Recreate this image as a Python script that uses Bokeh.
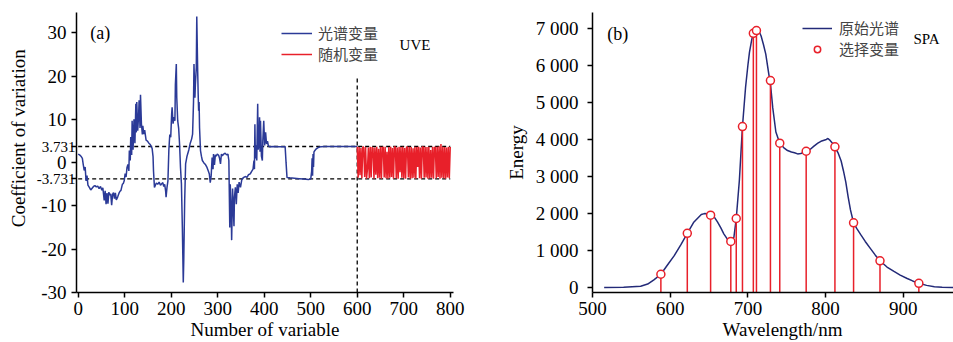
from bokeh.plotting import figure
from bokeh.layouts import row
from bokeh.models import FixedTicker, Label, Legend, LegendItem, LinearAxis
from bokeh.embed import file_html
from bokeh.resources import INLINE

# ---------------- data: panel (a) UVE ----------------
uve_var = [0, 3, 6, 9, 11, 13, 15, 17, 19, 21, 24, 27, 30, 33, 36, 39, 42, 45, 48, 51, 53, 56, 58, 60, 62,
           64, 66, 68, 70, 72, 74, 76, 78, 80, 82, 85, 88, 90, 92, 95, 97, 99, 101, 103, 105, 107, 109,
           110, 112, 113, 115, 116, 118, 120, 122, 124, 125, 126, 128, 130, 131, 133, 134, 136, 138, 139,
           141, 143, 146, 149, 152, 155, 157, 159, 161, 162, 164, 166, 168, 171, 174, 177, 180, 182, 184,
           186, 188, 189, 191, 193, 195, 197, 199, 201, 202, 204, 206, 208, 209, 211, 212, 214, 216, 218,
           220, 222, 224, 226, 227, 229, 231, 234, 238, 241, 244, 246, 248, 249, 251, 252, 254, 255, 257,
           258, 259, 260, 261, 263, 265, 267, 270, 274, 277, 280, 282, 284, 286, 288, 290, 291, 293, 295,
           297, 299, 302, 304, 306, 308, 310, 313, 316, 319, 322, 324, 326, 327, 329, 330, 332, 333, 335,
           336, 338, 340, 342, 344, 346, 349, 352, 356, 360, 363, 366, 370, 373, 376, 378, 379, 380, 381,
           383, 384, 386, 387, 389, 390, 391, 392, 394, 396, 397, 399, 401, 403, 405, 407, 409, 411, 420,
           430, 440, 445, 447, 449, 455, 465, 475, 485, 495, 500, 502, 503, 504, 505, 506, 507, 509, 512,
           516, 522, 530, 560, 600]
uve_coef = [2.0, 1.8, 1.5, 1.0, -0.5, -1.8, -1.0, -4.2, -3.0, -5.2, -5.7, -6.3, -5.9, -5.5, -5.3, -5.6,
            -5.4, -6.0, -5.5, -6.4, -5.8, -8.7, -6.5, -9.6, -7.0, -9.5, -6.8, -7.5, -7.2, -9.8, -7.3, -6.9,
            -8.3, -7.0, -8.6, -7.9, -7.0, -6.6, -6.4, -5.0, -4.8, -4.2, -2.5, -3.3, -1.1, -0.4, -1.9, 2.8,
            0.5, 5.9, 1.8, 9.7, 3.0, 10.0, 4.5, 13.6, 7.0, 14.0, 7.4, 11.0, 14.4, 8.0, 15.7, 9.0, 6.5, 8.5,
            6.6, 7.5, 5.2, 5.0, 4.5, 4.2, 3.7, 3.3, 1.4, -2.0, -5.7, -5.2, -4.7, -5.0, -4.5, -5.2, -4.8,
            -4.6, -5.5, -5.0, -6.5, -8.0, -5.7, -4.2, 3.0, 6.5, 5.9, 11.3, 12.8, 9.0, 10.5, 9.7, 18.0, 22.8,
            15.0, 9.7, 8.0, 4.3, -1.1, -4.9, -15.0, -27.7, -22.7, -8.8, -0.3, 1.5, 3.0, 4.5, 5.5, 6.6, 14.0,
            22.8, 15.0, 18.0, 22.0, 33.8, 21.0, 16.0, 12.0, 14.0, 8.0, 2.8, 1.5, 0.5, 0.0, -0.5, -1.1, -2.0,
            -2.6, -4.6, -3.0, 1.2, -1.5, 2.0, -0.5, 1.8, 1.5, 2.0, 1.7, 1.0, -0.3, 2.0, 1.6, 2.0, 2.2, 1.8,
            2.0, 0.5, -15.0, -5.0, -11.0, -17.9, -6.0, -8.8, -14.7, -8.0, -5.7, -9.6, -5.0, -7.0, -4.5,
            -5.7, -3.8, -3.4, -3.2, -3.4, -2.8, -2.6, -2.0, -1.5, 0.5, -1.5, 8.9, 1.0, 4.0, 0.5, 13.6, 3.0,
            4.3, 10.5, 2.5, 9.7, 1.5, 0.5, 5.0, 9.7, 4.0, 7.0, 4.3, 5.0, 3.9, 3.7, 3.75, 3.7, 3.7, 3.7, 0.0,
            -3.4, -3.5, -3.6, -3.7, -3.8, -3.9, -3.8, -2.0, 1.0, -3.0, 2.0, -1.0, 2.5, 2.8, 3.2, 3.5, 3.7,
            3.75, 3.75, 3.75]
rand_coef = [3.7, -3.5, 3.6, -2.9, 3.4, -3.6, 3.7, 3.5, -3.3, 3.6, -3.7, -1.5, 3.5, -3.6, 3.7, -3.4, 3.6,
             3.3, -3.7, 3.5, -2.8, 3.7, -3.6, 3.2, -3.5, 3.7, -3.7, 3.6, 3.5, -3.4, 3.7, -3.6, 2.5, -3.7,
             3.6, -3.5, 3.7, -3.3, 3.4, -3.7, 3.7, 3.6, -3.6, 3.5, -3.7, 3.7, -2.2, 3.6, -3.5, 3.7, -3.6,
             3.4, -3.7, 3.7, 3.5, -3.4, 3.7, -3.7, 3.6, -3.6, 3.3, -3.5, 3.7, -3.7, 3.6, -1.0, 3.7, -3.6,
             3.5, -3.7, 3.7, 3.6, -3.5, 3.7, -3.4, 3.6, -3.7, 3.7, -3.6, 2.9, -3.5, 3.7, -3.7, 3.6, 3.5,
             -3.6, 3.7, -3.3, 3.8, -3.7, 4.3, -3.5, 3.7, -3.6, 3.6, -3.7, 3.5, -3.4, 3.7, -3.6, 3.6]
rand_var = list(range(600, 600 + 2 * len(rand_coef), 2))
threshold = 3.731
split_var = 600
split_top = 19.5
a_xticks = [0, 100, 200, 300, 400, 500, 600, 700, 800]
a_yticks = [-30, -20, -10, 0, 10, 20, 30]
a_ylabels = {-30: "-30", -20: "-20", -10: "-10", 0: "0", 10: "10", 20: "20", 30: "30"}
a_thr_labels = {-threshold: "-3.731", threshold: "3.731"}

# ---------------- data: panel (b) SPA ----------------
wl = [515, 540, 562, 571, 579, 588, 596, 605, 614, 622, 630, 635, 640, 644, 648, 652, 657, 661, 665, 669,
      674, 678, 682, 685, 689, 693, 697, 700, 702, 705, 707, 710, 712, 714, 717, 720, 723, 727, 729, 732,
      736, 741, 746, 751, 756, 760, 764, 768, 772, 775, 780, 785, 790, 794, 798, 801, 803, 805, 808, 812,
      816, 820, 823, 826, 829, 832, 836, 840, 845, 851, 858, 864, 870, 879, 888, 896, 905, 912, 920, 930,
      940, 950, 965]
energy = [10, 15, 43, 100, 215, 365, 600, 860, 1170, 1468, 1760, 1870, 1975, 2000, 1998, 1960, 1900, 1768,
          1620, 1455, 1300, 1250, 1364, 1868, 2892, 4348, 5407, 6000, 6350, 6700, 6863, 6930, 6955, 6930,
          6790, 6560, 6300, 5750, 5500, 4850, 4200, 3898, 3780, 3700, 3660, 3640, 3610, 3620, 3650, 3682,
          3730, 3820, 3900, 3950, 3980, 4000, 4025, 3990, 3920, 3800, 3640, 3420, 3150, 2850, 2450, 2100,
          1752, 1600, 1440, 1250, 1050, 880, 728, 560, 440, 340, 250, 185, 120, 65, 30, 15, 5]
sel_wl = [588, 622, 652, 678, 685, 693, 707, 711, 729, 741, 775, 812, 836, 870, 920]
sel_energy = [365, 1468, 1957, 1250, 1868, 4348, 6863, 6935, 5588, 3898, 3682, 3800, 1752, 728, 120]
b_xticks = [500, 600, 700, 800, 900]
b_yticks = [0, 1000, 2000, 3000, 4000, 5000, 6000, 7000]
b_ylabels = {t: ("{:,}".format(t).replace(",", " ")) for t in b_yticks}

SERIF = "Liberation Serif"
CJK = "Noto Sans CJK SC"
BLUE = "#2B3A97"
NAVY = "#232A78"
RED = "#E8202A"
H = 342


def style_axis(ax, size="19px"):
    ax.axis_line_color = "black"
    ax.axis_line_width = 1.5
    ax.major_tick_line_color = "black"
    ax.major_tick_line_width = 1.5
    ax.major_tick_out = 5
    ax.major_tick_in = 0
    ax.minor_tick_line_color = None
    ax.major_label_text_font = SERIF
    ax.major_label_text_font_size = size
    ax.major_label_text_color = "black"
    ax.axis_label_text_font = SERIF
    ax.axis_label_text_font_size = "19px"
    ax.axis_label_text_font_style = "normal"
    ax.axis_label_text_color = "black"


def style(p):
    p.outline_line_color = None
    p.grid.visible = False
    p.background_fill_color = "white"
    p.border_fill_color = "white"
    for ax in p.axis:
        style_axis(ax)
    p.xaxis.major_label_standoff = 4
    p.xaxis.axis_label_standoff = 1


# ---------------- panel (a) ----------------
xa0, xa1 = -3.6, 807
pa = figure(width=490, height=H, x_range=(xa0, xa1), y_range=(-30, 34.7),
            min_border_left=76, min_border_right=37, min_border_top=12, min_border_bottom=50,
            output_backend="svg", toolbar_location=None)
style(pa)
pa.xaxis.ticker = FixedTicker(ticks=a_xticks)
pa.xaxis.axis_label = "Number of variable"

# inner y axis: axis line, all ticks, only the small threshold labels
inner = pa.yaxis[0]
inner.ticker = FixedTicker(ticks=a_yticks + [-threshold, threshold])
inner.major_label_overrides = {**{t: "" for t in a_yticks}, **a_thr_labels}
inner.major_label_text_font_size = "15px"
inner.major_label_standoff = -4

# outer y axis: the large integer labels and the axis title
thr_w = 40
outer = LinearAxis(ticker=FixedTicker(ticks=a_yticks), major_label_overrides=a_ylabels)
style_axis(outer)
outer.axis_line_color = None
outer.major_tick_line_color = None
outer.major_tick_out = 0
outer.major_label_standoff = 7 - thr_w
outer.axis_label = "\u00a0" * 6 + "Coefficient of variation"
outer.axis_label_standoff = 9
pa.add_layout(outer, "left")

for t in (threshold, -threshold):
    pa.line([a_xticks[0], a_xticks[-1]], [t, t], line_color="black", line_width=1.3, line_dash="4 3")
pa.line([split_var, split_var], [-30, split_top], line_color="black", line_width=1.3, line_dash="4 3")

r_blue = pa.line(uve_var, uve_coef, line_color=BLUE, line_width=1.5)
r_red = pa.line(rand_var, rand_coef, line_color=RED, line_width=1.5)

pa.add_layout(Label(x=26, y=29.9, text="(a)", text_align="left", text_baseline="middle",
                    text_font=SERIF, text_font_size="18px", text_color="black"))
pa.add_layout(Label(x=691, y=27.3, text="UVE", text_align="left", text_baseline="middle",
                    text_font=SERIF, text_font_size="15px", text_color="black"))

leg_a = Legend(items=[LegendItem(label="光谱变量", renderers=[r_blue]),
                      LegendItem(label="随机变量", renderers=[r_red])],
               location=(205, 228), background_fill_alpha=0, border_line_color=None,
               padding=0, margin=0, spacing=-2, glyph_width=31, glyph_height=16, label_height=16,
               label_standoff=6, label_text_font=CJK, label_text_font_size="15px")
pa.add_layout(leg_a)

# ---------------- panel (b) ----------------
yb0 = -127
pb = figure(width=463, height=H, x_range=(500, 964.6), y_range=(yb0, 7423),
            min_border_left=102, min_border_right=0, min_border_top=12, min_border_bottom=50,
            output_backend="svg", toolbar_location=None)
style(pb)
pb.yaxis.major_label_standoff = 9
pb.yaxis.axis_label_standoff = 6
pb.xaxis.ticker = FixedTicker(ticks=b_xticks)
pb.yaxis.ticker = FixedTicker(ticks=b_yticks)
pb.yaxis.major_label_overrides = b_ylabels
pb.xaxis.axis_label = "\u00a0" * 4 + "Wavelength/nm"
pb.yaxis.axis_label = "Energy"

r_spec = pb.line(wl, energy, line_color=NAVY, line_width=1.5)
pb.segment(x0=sel_wl, y0=[yb0] * len(sel_wl), x1=sel_wl, y1=sel_energy, line_color=RED, line_width=1.5)
r_sel = pb.scatter(sel_wl, sel_energy, marker="circle", size=8, fill_color="white",
                   line_color=RED, line_width=1.5)

pb.add_layout(Label(x=519, y=6855, text="(b)", text_align="left", text_baseline="middle",
                    text_font=SERIF, text_font_size="18px", text_color="black"))
pb.add_layout(Label(x=913, y=6720, text="SPA", text_align="left", text_baseline="middle",
                    text_font=SERIF, text_font_size="15px", text_color="black"))

leg_b = Legend(items=[LegendItem(label="原始光谱", renderers=[r_spec]),
                      LegendItem(label="选择变量", renderers=[r_sel])],
               location=(210, 233), background_fill_alpha=0, border_line_color=None,
               padding=0, margin=0, spacing=-10, glyph_width=30, glyph_height=16, label_height=16,
               label_standoff=7, label_text_font=CJK, label_text_font_size="15px")
pb.add_layout(leg_b)

layout = row(pa, pb)
open("out.html", "w").write(file_html(layout, INLINE))
